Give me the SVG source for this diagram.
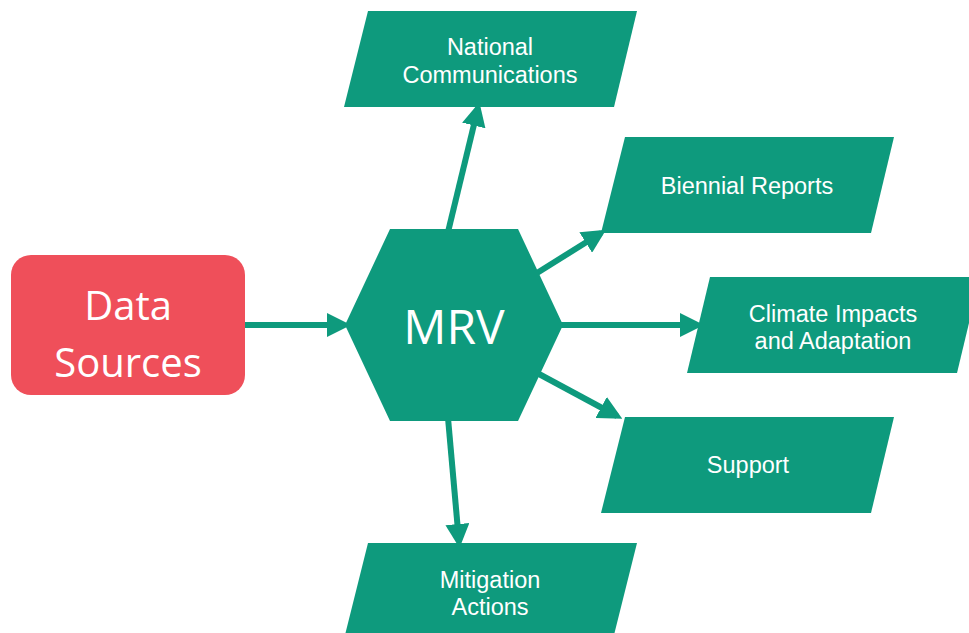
<svg xmlns="http://www.w3.org/2000/svg" width="969" height="633" viewBox="0 0 969 633">
  <style>
    .out { fill: #0E9A7D; }
    .lbl { font-family: "Liberation Sans", Arial, sans-serif; font-size: 23.5px; fill: #FFFFFF; text-anchor: middle; }
    .big { font-family: "Open Sans", "Liberation Sans", sans-serif; fill: #FFFFFF; text-anchor: middle; }
    .conn { stroke: #0E9A7D; stroke-width: 6; fill: none; marker-end: url(#head); }
  </style>
  <defs>
    <marker id="head" viewBox="0 0 4 4" markerWidth="4" markerHeight="4" refX="3" refY="2" orient="auto" markerUnits="strokeWidth">
      <path d="M0,0 L4,2 L0,4 Z" fill="#0E9A7D"/>
    </marker>
  </defs>

  <rect width="969" height="633" fill="#FFFFFF"/>

  <!-- connectors -->
  <g id="connectors">
    <line class="conn" x1="245" y1="325" x2="345" y2="325"/>
    <line class="conn" x1="448" y1="232" x2="478" y2="108"/>
    <line class="conn" x1="537" y1="273" x2="601" y2="233"/>
    <line class="conn" x1="561" y1="325" x2="698" y2="325"/>
    <line class="conn" x1="539" y1="374" x2="617" y2="416"/>
    <line class="conn" x1="448" y1="418" x2="459" y2="542"/>
  </g>

  <g id="data-sources">
    <rect x="11" y="255" width="234" height="140" rx="20" ry="20" fill="#EF4F5A"/>
    <text class="big" x="128" y="320" font-size="40">Data</text>
    <text class="big" x="128" y="377" font-size="40">Sources</text>
  </g>

  <g id="mrv">
    <polygon class="out" points="345,325 390,229 518,229 563,325 518,421 390,421"/>
    <text class="big" x="454" y="344" font-size="48">MRV</text>
  </g>

  <g id="national-communications">
    <polygon class="out" points="368,11 637,11 614,107 344,107"/>
    <text class="lbl" x="490" y="55">National</text>
    <text class="lbl" x="490" y="83">Communications</text>
  </g>

  <g id="biennial-reports">
    <polygon class="out" points="625,137 894,137 871,233 601,233"/>
    <text class="lbl" x="747" y="194">Biennial Reports</text>
  </g>

  <g id="climate-impacts">
    <polygon class="out" points="710,277 980,277 957,373 687,373"/>
    <text class="lbl" x="833" y="322">Climate Impacts</text>
    <text class="lbl" x="833" y="349">and Adaptation</text>
  </g>

  <g id="support">
    <polygon class="out" points="625,417 894,417 871,513 601,513"/>
    <text class="lbl" x="748" y="473">Support</text>
  </g>

  <g id="mitigation-actions">
    <polygon class="out" points="368,543 637,543 613,639 344,639"/>
    <text class="lbl" x="490" y="588">Mitigation</text>
    <text class="lbl" x="490" y="615">Actions</text>
  </g>
</svg>
